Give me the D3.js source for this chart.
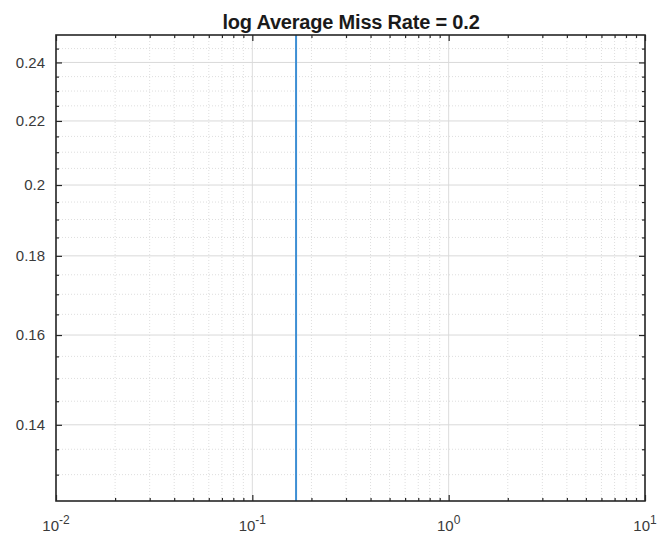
<!DOCTYPE html>
<html>
<head>
<meta charset="utf-8">
<script src="https://cdn.jsdelivr.net/npm/d3@7"></script>
<style>
  html, body { margin: 0; padding: 0; background: #fff; }
  svg { display: block; }
</style>
</head>
<body>
<svg id="chart" width="658" height="536"></svg>
<script>
// ---- data ----
const titleText = "log Average Miss Rate = 0.2";
const xDomain = [0.01, 10];
const yDomain = [0.125, 0.25];
const xMajorTicks = [0.01, 0.1, 1, 10];
const xTickExponents = ["-2", "-1", "0", "1"];
const xMinorTicks = [0.02,0.03,0.04,0.05,0.06,0.07,0.08,0.09,
                     0.2,0.3,0.4,0.5,0.6,0.7,0.8,0.9,
                     2,3,4,5,6,7,8,9];
const yMajorTicks = [0.14, 0.16, 0.18, 0.2, 0.22, 0.24];
const yTickLabels = ["0.14", "0.16", "0.18", "0.2", "0.22", "0.24"];
const yMinorTicks = [0.13,0.135,0.145,0.15,0.155,0.165,0.17,0.175,0.185,0.19,0.195,
                     0.205,0.21,0.215,0.225,0.23,0.235,0.245];
const curveX = [0.167, 0.167];
const curveY = [0.125, 0.25];

// ---- layout ----
const svg = d3.select("#chart");
const L = 56, R = 645, T = 35, B = 501;
const x = d3.scaleLog().domain(xDomain).range([L, R]);
const y = d3.scaleLog().domain(yDomain).range([B, T]);
const axisColor = "#262626";
const font = "'Liberation Sans', Arial, Helvetica, sans-serif";

const g = svg.append("g");

// minor grid
g.selectAll(".xminor").data(xMinorTicks).join("line")
  .attr("x1", d => x(d)).attr("x2", d => x(d)).attr("y1", T).attr("y2", B)
  .attr("stroke", "#dedede").attr("stroke-width", 1).attr("stroke-dasharray", "1,2");
g.selectAll(".yminor").data(yMinorTicks).join("line")
  .attr("y1", d => y(d)).attr("y2", d => y(d)).attr("x1", L).attr("x2", R)
  .attr("stroke", "#dedede").attr("stroke-width", 1).attr("stroke-dasharray", "1,2");
// major grid
g.selectAll(".xmajor").data(xMajorTicks).join("line")
  .attr("x1", d => x(d)).attr("x2", d => x(d)).attr("y1", T).attr("y2", B)
  .attr("stroke", "#dcdcdc").attr("stroke-width", 1);
g.selectAll(".ymajor").data(yMajorTicks).join("line")
  .attr("y1", d => y(d)).attr("y2", d => y(d)).attr("x1", L).attr("x2", R)
  .attr("stroke", "#d9d9d9").attr("stroke-width", 1);

// curve
const line = d3.line().x(d => x(d[0])).y(d => y(d[1]));
g.append("path")
  .datum(curveX.map((v, i) => [v, curveY[i]]))
  .attr("d", line)
  .attr("fill", "none").attr("stroke", "#3d8fd4").attr("stroke-width", 2);

// axes with inward ticks
function styleAxis(sel) {
  sel.select(".domain").remove();
  sel.selectAll(".tick line").attr("stroke", axisColor).attr("stroke-width", 1.2);
  sel.selectAll("text").attr("fill", "#3a3a3a").style("font-family", font).style("font-size", "15px");
}
// major axes
const axB = d3.axisBottom(x).tickValues(xMajorTicks).tickSizeInner(-6).tickSizeOuter(0).tickFormat("");
const axT = d3.axisTop(x).tickValues(xMajorTicks).tickSizeInner(-6).tickSizeOuter(0).tickFormat("");
const axL = d3.axisLeft(y).tickValues(yMajorTicks).tickSizeInner(-6).tickSizeOuter(0)
  .tickFormat((d, i) => yTickLabels[i]).tickPadding(11);
const axR = d3.axisRight(y).tickValues(yMajorTicks).tickSizeInner(-6).tickSizeOuter(0).tickFormat("");
// minor axes
const mB = d3.axisBottom(x).tickValues(xMinorTicks).tickSizeInner(-3).tickSizeOuter(0).tickFormat("");
const mT = d3.axisTop(x).tickValues(xMinorTicks).tickSizeInner(-3).tickSizeOuter(0).tickFormat("");
const mL = d3.axisLeft(y).tickValues(yMinorTicks).tickSizeInner(-3).tickSizeOuter(0).tickFormat("");
const mR = d3.axisRight(y).tickValues(yMinorTicks).tickSizeInner(-3).tickSizeOuter(0).tickFormat("");

[[axB, `translate(0,${B})`], [mB, `translate(0,${B})`],
 [axT, `translate(0,${T})`], [mT, `translate(0,${T})`],
 [axL, `translate(${L},0)`], [mL, `translate(${L},0)`],
 [axR, `translate(${R},0)`], [mR, `translate(${R},0)`]].forEach(([ax, tr]) => {
  svg.append("g").attr("transform", tr).call(ax).call(styleAxis);
});

// x tick labels with superscripts
const xl = svg.append("g");
xMajorTicks.forEach((v, i) => {
  const t = xl.append("text")
    .attr("x", x(v)).attr("y", B + 30)
    .attr("text-anchor", "middle")
    .attr("fill", "#3a3a3a")
    .style("font-family", font).style("font-size", "15px");
  t.append("tspan").text("10");
  t.append("tspan").attr("dy", -7).style("font-size", "12px").text(xTickExponents[i]);
});

// box
svg.append("rect").attr("x", L).attr("y", T).attr("width", R - L).attr("height", B - T)
  .attr("fill", "none").attr("stroke", axisColor).attr("stroke-width", 1.6);

// title
svg.append("text")
  .attr("x", 351).attr("y", 29)
  .attr("text-anchor", "middle")
  .attr("fill", "#1a1a1a")
  .style("font-family", font).style("font-size", "20px").style("font-weight", "bold")
  .style("letter-spacing", "-0.2px")
  .text(titleText);
</script>
</body>
</html>
